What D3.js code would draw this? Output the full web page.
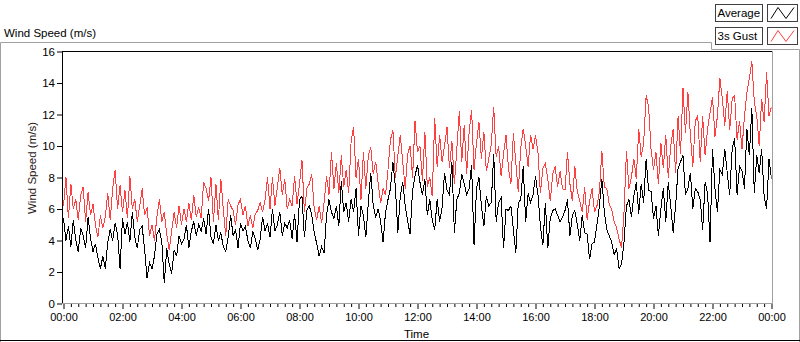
<!DOCTYPE html>
<html><head><meta charset="utf-8">
<script src="https://cdn.jsdelivr.net/npm/d3@7"></script>
<style>
html,body{margin:0;padding:0;background:#fff;}
svg{display:block;font-family:"Liberation Sans",Arial,sans-serif;}
</style></head><body>
<svg id="chart" width="800" height="342"></svg>
<script>
const chartTitle = "Wind Speed (m/s)";
const yAxisTitle = "Wind Speed (m/s)";
const xAxisTitle = "Time";
const seriesNames = ["Average", "3s Gust"];
const seriesColors = ["#000000", "#ff4040"];
const sampleStepMinutes = 5;
const yTicks = [0, 2, 4, 6, 8, 10, 12, 14, 16];
const xTickHours = [0, 2, 4, 6, 8, 10, 12, 14, 16, 18, 20, 22, 24];
const xTickLabels = ["00:00","02:00","04:00","06:00","08:00","10:00","12:00","14:00","16:00","18:00","20:00","22:00","00:00"];
const xMinorStepHours = 0.25;

const average = [
5.4,4.0,4.9,3.6,5.3,4.0,3.3,4.8,4.3,3.5,5.5,4.1,3.3,3.8,2.9,2.2,3.0,2.2,3.9,4.7,4.0,5.1,4.4,2.2,5.4,4.4,5.2,3.9,5.8,4.2,3.5,4.7,4.9,3.4,1.6,2.6,2.2,3.0,4.4,4.7,3.9,1.3,3.5,2.5,1.9,3.4,3.0,4.3,3.8,4.1,5.0,3.5,4.6,5.2,4.3,5.0,4.6,5.4,
4.4,6.0,4.2,3.8,5.0,4.0,4.5,3.6,3.3,4.2,5.6,4.3,4.7,3.5,5.1,4.6,4.9,4.0,3.5,4.6,4.1,3.4,4.1,5.5,4.6,5.1,4.2,6.0,4.6,5.0,5.8,4.3,5.1,4.8,5.3,4.1,5.7,3.9,6.6,6.8,4.2,5.9,6.2,5.6,4.5,3.8,3.0,3.6,3.2,5.6,6.6,5.8,5.4,6.2,4.9,7.8,5.8,6.4,
5.2,6.6,5.8,7.3,4.3,6.2,5.6,4.2,6.4,8.3,6.2,5.5,6.0,5.2,3.9,5.8,6.6,7.3,9.0,7.4,4.5,6.8,7.7,6.2,5.2,4.4,7.2,8.1,8.8,7.7,6.9,7.9,5.6,6.6,5.3,4.7,6.6,5.2,6.1,8.3,7.2,6.9,9.0,4.5,6.6,7.0,8.2,7.6,6.9,7.3,8.8,3.7,7.3,8.0,6.2,4.9,6.8,6.2,
6.4,9.5,5.2,6.4,6.7,3.5,6.0,5.9,6.2,4.7,3.2,6.4,6.6,8.7,5.2,7.0,6.4,6.9,8.1,6.9,4.9,3.7,6.4,3.5,5.4,5.9,6.0,5.6,5.2,5.5,5.9,6.6,4.3,5.6,5.9,5.0,4.0,5.6,4.5,4.4,2.8,3.8,3.9,5.0,6.2,7.9,5.8,4.7,4.3,3.9,3.1,3.5,2.2,2.5,3.9,6.2,6.6,
5.5,6.8,7.7,5.7,7.6,6.4,9.2,7.2,7.1,5.4,6.2,4.3,6.0,7.3,5.2,7.7,6.2,4.5,6.2,8.6,9.0,9.4,6.9,7.3,8.3,6.0,7.3,7.1,6.6,4.7,7.7,7.0,3.9,9.8,7.3,5.8,8.5,8.2,9.8,8.3,6.9,9.8,10.5,6.9,8.7,8.4,7.3,11.1,9.4,12.4,7.0,9.4,8.3,9.8,6.8,6.0,9.2,7.9
];

const gust = [
6.2,8.0,5.4,7.6,6.0,6.6,5.3,6.9,7.4,5.2,7.1,5.6,6.3,5.0,4.2,5.6,4.8,5.5,7.0,5.3,7.3,8.5,6.0,7.5,5.8,7.2,5.4,8.1,6.0,6.6,5.2,6.2,7.3,5.6,6.1,4.3,5.0,4.0,5.5,6.6,5.2,5.8,4.4,3.4,4.6,5.8,4.8,6.2,5.0,6.0,5.2,6.4,5.3,6.9,5.5,6.1,5.4,7.7,
7.3,6.5,8.0,5.2,7.6,5.3,7.9,6.0,4.3,6.6,6.2,5.9,5.0,6.3,6.6,5.6,6.2,4.9,5.6,4.8,5.7,5.9,6.4,5.8,6.6,8.0,6.0,8.0,6.2,7.4,8.6,6.9,7.9,6.0,6.6,6.2,8.1,6.3,7.6,9.1,5.8,7.3,7.6,8.2,6.0,5.3,6.2,5.1,6.4,8.1,6.9,9.6,7.3,8.9,7.0,9.4,7.4,8.5,
7.0,10.3,11.2,8.0,9.2,6.6,9.6,7.3,9.4,9.9,8.2,9.0,7.6,6.4,7.3,6.9,8.5,10.4,11.0,8.0,9.4,10.7,9.0,7.3,9.5,10.0,8.0,11.6,9.6,10.0,7.8,10.9,7.4,8.0,6.8,11.8,8.7,10.7,9.0,10.0,11.2,8.6,10.3,7.6,9.8,12.2,9.0,11.3,8.2,10.9,12.3,8.5,10.2,11.5,9.2,10.9,8.4,9.2,
10.1,12.5,9.3,10.0,8.1,9.5,10.7,8.6,7.6,10.8,8.9,7.1,9.9,11.1,10.0,8.7,10.7,9.8,10.7,9.6,7.0,8.6,8.9,7.9,6.5,8.2,8.7,7.4,8.4,7.3,7.2,9.6,7.6,6.5,8.7,7.1,6.5,5.8,7.4,5.3,6.5,7.3,5.8,6.2,7.1,9.7,7.4,7.3,6.3,6.0,5.2,4.8,4.1,3.5,5.8,9.7,7.3,
8.0,9.2,7.9,11.1,9.3,10.2,13.2,12.5,9.8,8.5,9.6,7.6,10.2,8.6,10.7,8.0,10.0,11.1,8.3,11.9,9.5,13.7,10.8,13.4,10.7,8.7,11.6,11.9,9.0,11.9,9.4,11.1,12.1,13.1,10.6,11.9,14.3,13.0,11.3,13.5,11.0,13.0,13.2,10.4,11.6,9.8,11.9,13.4,14.3,15.4,12.8,11.9,10.0,13.0,11.5,14.7,11.9,12.5
];

const svg = d3.select("#chart");
const plot = {left: 62.5, right: 771.5, top: 51.5, bottom: 303.5};

const x = d3.scaleLinear().domain([0, 24]).range([63.5, 771.5]);
const y = d3.scaleLinear().domain([0, 16]).range([303.5, 51.5]);
const hourOf = i => i * sampleStepMinutes / 60;

// outer frame
svg.append("path")
  .attr("d", "M0.5,342 V42.5 H711.5 V49.5 H799.5 V342")
  .attr("fill", "none").attr("stroke", "#a0a0a0");
svg.append("line").attr("x1", 0).attr("x2", 800).attr("y1", 340.5).attr("y2", 340.5)
  .attr("stroke", "#000");

// chart title
svg.append("text").attr("x", 4).attr("y", 36.5)
  .attr("font-size", "11.5px").attr("fill", "#000").text(chartTitle);

// plot lines
const lineGen = d3.line().x((d, i) => x(hourOf(i))).y(d => y(d));
svg.append("clipPath").attr("id", "pclip").append("rect")
  .attr("x", plot.left).attr("y", plot.top).attr("width", plot.right - plot.left).attr("height", plot.bottom - plot.top);
const lines = svg.append("g").attr("clip-path", "url(#pclip)");
lines.append("path").datum(gust).attr("d", lineGen)
  .attr("fill", "none").attr("stroke", seriesColors[1]).attr("stroke-width", 1)
  .attr("shape-rendering", "crispEdges");
lines.append("path").datum(average).attr("d", lineGen)
  .attr("fill", "none").attr("stroke", seriesColors[0]).attr("stroke-width", 1)
  .attr("shape-rendering", "crispEdges");

// plot frame
svg.append("line").attr("x1", 62).attr("x2", 772).attr("y1", 51.5).attr("y2", 51.5).attr("stroke", "#000");
svg.append("line").attr("x1", 62.5).attr("x2", 62.5).attr("y1", 51).attr("y2", 304).attr("stroke", "#000");
svg.append("line").attr("x1", 772.5).attr("x2", 772.5).attr("y1", 51).attr("y2", 304).attr("stroke", "#a0a0a0");
svg.append("line").attr("x1", 62).attr("x2", 773).attr("y1", 303.5).attr("y2", 303.5).attr("stroke", "#a0a0a0");

// y axis
const yAxis = svg.append("g").attr("transform", "translate(62,0)")
  .call(d3.axisLeft(y).tickValues(yTicks).tickSize(5).tickPadding(2).tickFormat(d3.format("d")));
yAxis.select(".domain").remove();
yAxis.selectAll("line").attr("stroke", "#000");
yAxis.selectAll("text").attr("font-size", "11.5px").attr("fill", "#000")
  .attr("font-family", "Liberation Sans, Arial, sans-serif");

// x axis minor ticks
const minorTicks = d3.range(0, 24 + 1e-9, xMinorStepHours).filter(h => Math.abs(h / 2 - Math.round(h / 2)) > 1e-6);
const xMinor = svg.append("g").attr("transform", "translate(0,304)")
  .call(d3.axisBottom(x).tickValues(minorTicks).tickSize(3).tickFormat(""));
xMinor.select(".domain").remove();
xMinor.selectAll("line").attr("stroke", "#000");

const xAxis = svg.append("g").attr("transform", "translate(0,304)")
  .call(d3.axisBottom(x).tickValues(xTickHours).tickSize(5).tickPadding(4)
    .tickFormat((d, i) => xTickLabels[i]));
xAxis.select(".domain").remove();
xAxis.selectAll("line").attr("stroke", "#000");
xAxis.selectAll("text").attr("font-size", "11px").attr("fill", "#000")
  .attr("font-family", "Liberation Sans, Arial, sans-serif");

// axis titles
svg.append("text").attr("transform", "translate(31.5,168) rotate(-90)")
  .attr("text-anchor", "middle").attr("dominant-baseline", "central")
  .attr("font-size", "11.5px").attr("fill", "#2a2018").text(yAxisTitle);
svg.append("text").attr("x", 416.5).attr("y", 334)
  .attr("text-anchor", "middle").attr("dominant-baseline", "central")
  .attr("font-size", "11.5px").attr("fill", "#000").text(xAxisTitle);

// legend
const legend = svg.append("g");
seriesNames.forEach((name, i) => {
  const top = 4.5 + i * 23;
  legend.append("rect").attr("x", 715.5).attr("y", top).attr("width", 47).attr("height", 17)
    .attr("fill", "#fff").attr("stroke", "#404040");
  legend.append("text").attr("x", 717.5).attr("y", top + 8.5)
    .attr("dominant-baseline", "central").attr("font-size", "11.5px").attr("fill", "#000").text(name);
  legend.append("rect").attr("x", 767.5).attr("y", top).attr("width", 30).attr("height", 17)
    .attr("fill", "#fff").attr("stroke", "#404040");
  legend.append("path")
    .attr("d", `M${771},${top + 14} L${778},${top + 3} L${786},${top + 14} L${794},${top + 3}`)
    .attr("fill", "none").attr("stroke", seriesColors[i]).attr("stroke-width", 1);
});
</script>
</body></html>
